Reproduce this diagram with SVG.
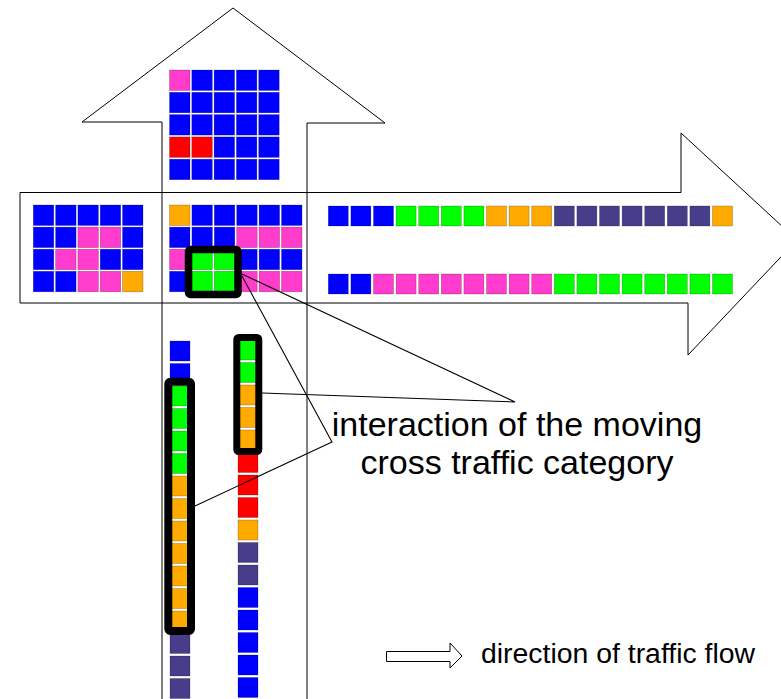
<svg xmlns="http://www.w3.org/2000/svg" width="781" height="699" viewBox="0 0 781 699">
  <style>
    .outline { fill: none; stroke: #000; stroke-width: 1; stroke-linejoin: miter; }
    .b { fill: #0000ff; }
    .p { fill: #ff3ccc; }
    .r { fill: #ff0000; }
    .o { fill: #ffaa00; }
    .g { fill: #00ff00; }
    .v { fill: #483d8b; }
    .cell { stroke-width: 0.6; stroke-opacity: 0.35; stroke: #000; }
    .frame { fill: none; stroke: #000; stroke-linejoin: round; }
    .lead { fill: none; stroke: #000; stroke-width: 1.1; }
    .label { font-family: "Liberation Sans", Arial, sans-serif; fill: #000; }
  </style>
  <defs>
    <rect id="sq" width="20.5" height="20.5"/>
    <rect id="sr" width="20" height="20"/>
  </defs>
  <rect width="781" height="699" fill="#fff"/>

  <!-- road outlines: northbound and eastbound arrows -->
  <g id="arrow-north">
    <polygon class="outline" points="162,705 162,122 82,122 233,8 385,123 307,123 307,705"/>
  </g>
  <g id="arrow-east">
    <polygon class="outline" points="20,192.5 681,192.5 681,133 797,240 688,355 688,303 20,303"/>
  </g>

  <!-- queue above the junction -->
  <g id="grid-north" class="cell">
    <use href="#sq" class="p" x="169.5" y="70"/><use href="#sq" class="b" x="191.8" y="70"/><use href="#sq" class="b" x="214.1" y="70"/><use href="#sq" class="b" x="236.4" y="70"/><use href="#sq" class="b" x="258.7" y="70"/>
    <use href="#sq" class="b" x="169.5" y="92.3"/><use href="#sq" class="b" x="191.8" y="92.3"/><use href="#sq" class="b" x="214.1" y="92.3"/><use href="#sq" class="b" x="236.4" y="92.3"/><use href="#sq" class="b" x="258.7" y="92.3"/>
    <use href="#sq" class="b" x="169.5" y="114.6"/><use href="#sq" class="b" x="191.8" y="114.6"/><use href="#sq" class="b" x="214.1" y="114.6"/><use href="#sq" class="b" x="236.4" y="114.6"/><use href="#sq" class="b" x="258.7" y="114.6"/>
    <use href="#sq" class="r" x="169.5" y="136.9"/><use href="#sq" class="r" x="191.8" y="136.9"/><use href="#sq" class="b" x="214.1" y="136.9"/><use href="#sq" class="b" x="236.4" y="136.9"/><use href="#sq" class="b" x="258.7" y="136.9"/>
    <use href="#sq" class="b" x="169.5" y="159.2"/><use href="#sq" class="b" x="191.8" y="159.2"/><use href="#sq" class="b" x="214.1" y="159.2"/><use href="#sq" class="b" x="236.4" y="159.2"/><use href="#sq" class="b" x="258.7" y="159.2"/>
  </g>

  <!-- queue left of the junction -->
  <g id="grid-west" class="cell">
    <use href="#sq" class="b" x="33.3" y="205"/><use href="#sq" class="b" x="55.6" y="205"/><use href="#sq" class="b" x="77.9" y="205"/><use href="#sq" class="b" x="100.2" y="205"/><use href="#sq" class="b" x="122.5" y="205"/>
    <use href="#sq" class="b" x="33.3" y="227.1"/><use href="#sq" class="b" x="55.6" y="227.1"/><use href="#sq" class="p" x="77.9" y="227.1"/><use href="#sq" class="p" x="100.2" y="227.1"/><use href="#sq" class="b" x="122.5" y="227.1"/>
    <use href="#sq" class="b" x="33.3" y="249.2"/><use href="#sq" class="p" x="55.6" y="249.2"/><use href="#sq" class="p" x="77.9" y="249.2"/><use href="#sq" class="b" x="100.2" y="249.2"/><use href="#sq" class="b" x="122.5" y="249.2"/>
    <use href="#sq" class="b" x="33.3" y="271.3"/><use href="#sq" class="b" x="55.6" y="271.3"/><use href="#sq" class="p" x="77.9" y="271.3"/><use href="#sq" class="p" x="100.2" y="271.3"/><use href="#sq" class="o" x="122.5" y="271.3"/>
  </g>

  <!-- vehicles inside the junction -->
  <g id="grid-junction" class="cell">
    <use href="#sq" class="o" x="169.5" y="205"/><use href="#sq" class="b" x="191.9" y="205"/><use href="#sq" class="b" x="214.3" y="205"/><use href="#sq" class="b" x="236.7" y="205"/><use href="#sq" class="b" x="259.1" y="205"/><use href="#sq" class="b" x="281.5" y="205"/>
    <use href="#sq" class="b" x="169.5" y="227.1"/><use href="#sq" class="b" x="191.9" y="227.1"/><use href="#sq" class="b" x="214.3" y="227.1"/><use href="#sq" class="p" x="236.7" y="227.1"/><use href="#sq" class="p" x="259.1" y="227.1"/><use href="#sq" class="p" x="281.5" y="227.1"/>
    <use href="#sq" class="p" x="169.5" y="249.2"/><use href="#sq" class="g" x="191.9" y="249.2"/><use href="#sq" class="g" x="214.3" y="249.2"/><use href="#sq" class="b" x="236.7" y="249.2"/><use href="#sq" class="b" x="259.1" y="249.2"/><use href="#sq" class="b" x="281.5" y="249.2"/>
    <use href="#sq" class="b" x="169.5" y="271.3"/><use href="#sq" class="g" x="191.9" y="271.3"/><use href="#sq" class="g" x="214.3" y="271.3"/><use href="#sq" class="p" x="236.7" y="271.3"/><use href="#sq" class="p" x="259.1" y="271.3"/><use href="#sq" class="p" x="281.5" y="271.3"/>
  </g>

  <!-- two eastbound lanes -->
  <g id="lane-east-1" class="cell">
    <use href="#sr" class="b" x="328.3" y="206"/><use href="#sr" class="b" x="350.9" y="206"/><use href="#sr" class="b" x="373.5" y="206"/>
    <use href="#sr" class="g" x="396.1" y="206"/><use href="#sr" class="g" x="418.7" y="206"/><use href="#sr" class="g" x="441.3" y="206"/><use href="#sr" class="g" x="463.9" y="206"/>
    <use href="#sr" class="o" x="486.5" y="206"/><use href="#sr" class="o" x="509.1" y="206"/><use href="#sr" class="o" x="531.7" y="206"/>
    <use href="#sr" class="v" x="554.3" y="206"/><use href="#sr" class="v" x="576.9" y="206"/><use href="#sr" class="v" x="599.5" y="206"/><use href="#sr" class="v" x="622.1" y="206"/><use href="#sr" class="v" x="644.7" y="206"/><use href="#sr" class="v" x="667.3" y="206"/><use href="#sr" class="v" x="689.9" y="206"/>
    <use href="#sr" class="o" x="712.5" y="206"/>
  </g>
  <g id="lane-east-2" class="cell">
    <use href="#sr" class="b" x="328.3" y="274"/><use href="#sr" class="b" x="350.9" y="274"/>
    <use href="#sr" class="p" x="373.5" y="274"/><use href="#sr" class="p" x="396.1" y="274"/><use href="#sr" class="p" x="418.7" y="274"/><use href="#sr" class="p" x="441.3" y="274"/><use href="#sr" class="p" x="463.9" y="274"/><use href="#sr" class="p" x="486.5" y="274"/><use href="#sr" class="p" x="509.1" y="274"/><use href="#sr" class="p" x="531.7" y="274"/>
    <use href="#sr" class="g" x="554.3" y="274"/><use href="#sr" class="g" x="576.9" y="274"/><use href="#sr" class="g" x="599.5" y="274"/><use href="#sr" class="g" x="622.1" y="274"/><use href="#sr" class="g" x="644.7" y="274"/><use href="#sr" class="g" x="667.3" y="274"/><use href="#sr" class="g" x="689.9" y="274"/><use href="#sr" class="g" x="712.5" y="274"/>
  </g>

  <!-- two northbound lanes below the junction -->
  <g id="lane-north-1" class="cell">
    <use href="#sr" class="b" x="170" y="341"/><use href="#sr" class="b" x="170" y="363.5"/>
    <use href="#sr" class="g" x="170" y="386"/><use href="#sr" class="g" x="170" y="408.5"/><use href="#sr" class="g" x="170" y="431"/><use href="#sr" class="g" x="170" y="453.5"/>
    <use href="#sr" class="o" x="170" y="476"/><use href="#sr" class="o" x="170" y="498.5"/><use href="#sr" class="o" x="170" y="521"/><use href="#sr" class="o" x="170" y="543.5"/><use href="#sr" class="o" x="170" y="566"/><use href="#sr" class="o" x="170" y="588.5"/><use href="#sr" class="o" x="170" y="611"/>
    <use href="#sr" class="v" x="170" y="633.5"/><use href="#sr" class="v" x="170" y="656"/><use href="#sr" class="v" x="170" y="678.5"/>
  </g>
  <g id="lane-north-2" class="cell">
    <use href="#sr" class="g" x="238" y="340"/><use href="#sr" class="g" x="238" y="362.5"/>
    <use href="#sr" class="o" x="238" y="385"/><use href="#sr" class="o" x="238" y="407.5"/><use href="#sr" class="o" x="238" y="430"/>
    <use href="#sr" class="r" x="238" y="452.5"/><use href="#sr" class="r" x="238" y="475"/><use href="#sr" class="r" x="238" y="497.5"/>
    <use href="#sr" class="o" x="238" y="520"/>
    <use href="#sr" class="v" x="238" y="542.5"/><use href="#sr" class="v" x="238" y="565"/>
    <use href="#sr" class="b" x="238" y="587.5"/><use href="#sr" class="b" x="238" y="610"/><use href="#sr" class="b" x="238" y="632.5"/><use href="#sr" class="b" x="238" y="655"/><use href="#sr" class="b" x="238" y="677.5"/>
  </g>

  <!-- highlighted cross-traffic groups -->
  <g id="highlight-junction">
    <rect class="frame" x="188.5" y="249.5" width="49.5" height="45" rx="2" stroke-width="7.5"/>
  </g>
  <g id="highlight-lane-1">
    <rect class="frame" x="168.3" y="381.7" width="22.7" height="249.3" rx="2" stroke-width="8"/>
  </g>
  <g id="highlight-lane-2">
    <rect class="frame" x="236.8" y="337.5" width="22" height="114" rx="2" stroke-width="7"/>
  </g>

  <!-- leader lines to the caption -->
  <g id="connectors">
    <polyline class="lead" points="242,274 515,402 262,393"/>
    <polyline class="lead" points="242,276 332,442 195,506"/>
  </g>

  <g id="caption">
    <text class="label" x="517" y="436" font-size="34" text-anchor="middle">interaction of the moving</text>
    <text class="label" x="517" y="474" font-size="34" text-anchor="middle">cross traffic category</text>
  </g>

  <g id="legend">
    <polygon class="outline" points="386.5,651.5 450,651.5 450,643 462,656 450,668 450,661.5 386.5,661.5"/>
    <text class="label" x="481" y="663" font-size="28.4">direction of traffic flow</text>
  </g>
</svg>
